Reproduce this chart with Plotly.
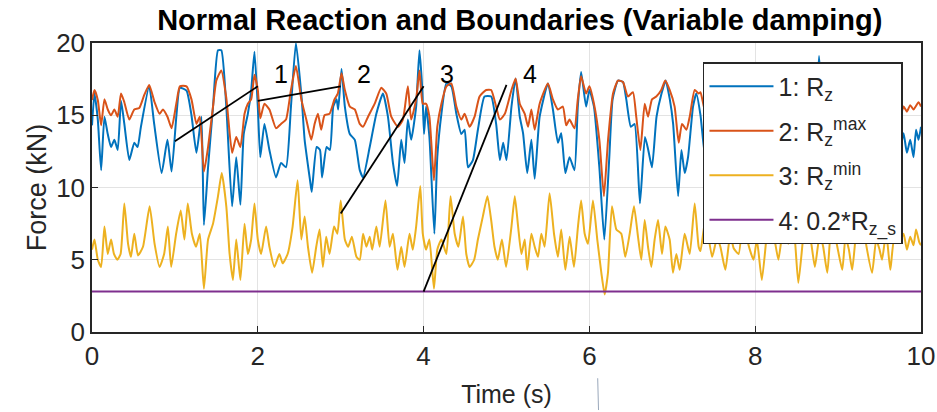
import plotly.graph_objects as go

# ---------------- data ----------------
t_rz = [0.00,0.03,0.07,0.11,0.15,0.19,0.23,0.27,0.31,0.35,0.39,0.45,0.51,0.55,0.59,0.69,0.75,0.84,0.91,0.96,
        1.02,1.06,1.14,1.20,1.26,1.32,1.35,1.40,1.46,1.52,1.56,1.62,1.69,1.74,1.79,1.83,1.88,1.92,1.96,2.00,
        2.03,2.08,2.14,2.22,2.28,2.34,2.40,2.46,2.53,2.565,2.63,2.65,2.71,2.75,2.775,2.83,2.87,2.91,2.95,2.97,
        3.01,3.05,3.11,3.17,3.23,3.27,3.35,3.43,3.51,3.57,3.63,3.68,3.73,3.77,3.81,3.85,3.91,3.95,3.985,4.005,
        4.03,4.07,4.13,4.165,4.215,4.275,4.335,4.395,4.455,4.495,4.535,4.595,4.655,4.735,4.815,4.875,4.92,4.96,5.00,
        5.06,5.11,5.16,5.20,5.25,5.30,5.34,5.40,5.50,5.56,5.62,5.66,5.71,5.76,5.82,5.86,5.90,5.96,6.00,6.055,
        6.12,6.18,6.24,6.28,6.345,6.405,6.445,6.50,6.545,6.61,6.67,6.71,6.755,6.81,6.87,6.92,6.97,7.01,7.07,7.11,
        7.15,7.19,7.25,7.29,7.34,7.40,7.46,7.52,7.60,7.68,7.76,7.84,7.90,7.96,8.04,8.12,8.20,8.28,8.34,8.40,
        8.48,8.56,8.64,8.70,8.77,8.82,8.90,8.96,9.04,9.12,9.20,9.28,9.36,9.44,9.52,9.60,9.68,9.75,9.79,9.83,
        9.87,9.91,9.94,9.97,10.0]
rz = [14.3,16.5,14.7,11.2,14.9,13.7,12.8,13.3,12.6,16.0,14.4,11.9,13.1,12.8,14.2,17.0,14.4,11.0,13.3,11.1,
      15.1,16.9,16.7,15.0,12.4,14.9,7.4,11.4,15.6,19.5,19.5,15.6,8.7,12.1,8.8,13.7,15.1,16.7,19.4,15.6,
      12.1,14.4,12.6,10.7,11.7,11.4,15.6,20.0,16.1,13.3,10.5,9.7,12.8,12.6,10.7,12.8,12.6,15.6,16.1,15.4,
      18.2,15.6,13.7,13.3,11.2,10.7,12.8,15.1,16.5,14.9,11.7,10.1,13.3,11.7,14.7,13.3,15.6,19.5,16.7,13.7,
      15.6,13.5,6.8,12.1,15.1,17.2,17.0,15.1,13.7,14.0,11.4,11.9,14.0,16.3,16.3,14.4,11.9,13.1,11.9,
      15.6,17.55,14.9,13.75,11.0,13.3,10.6,14.9,17.2,15.4,13.1,13.75,11.0,12.1,11.2,15.6,18.0,15.6,16.75,15.6,
      11.4,6.4,12.1,16.1,17.4,17.3,16.1,14.2,14.4,8.9,13.5,12.6,11.4,14.9,16.5,17.4,16.1,14.4,9.4,12.6,
      11.0,12.1,15.6,16.5,15.0,12.0,13.5,11.5,15.5,17.0,15.0,12.0,13.8,11.0,15.8,17.2,14.5,11.8,13.2,10.8,
      15.0,16.8,14.0,12.5,19.1,14.5,11.5,13.4,16.5,17.0,14.2,11.2,13.8,12.0,16.2,16.8,14.0,12.8,13.75,12.4,
      13.3,12.1,14.0,13.3,14.2]

t_rmax = [0.00,0.03,0.07,0.11,0.15,0.19,0.23,0.27,0.31,0.35,0.39,0.45,0.51,0.57,0.63,0.69,0.755,0.815,0.855,0.91,
          0.96,1.02,1.06,1.14,1.20,1.26,1.30,1.35,1.40,1.46,1.50,1.56,1.62,1.69,1.74,1.79,1.84,1.88,1.92,1.96,
          2.00,2.03,2.08,2.14,2.22,2.28,2.34,2.40,2.46,2.525,2.585,2.645,2.685,2.725,2.765,2.805,2.865,2.925,2.965,3.01,
          3.05,3.11,3.17,3.23,3.27,3.33,3.41,3.49,3.55,3.61,3.69,3.75,3.81,3.85,3.91,3.95,3.99,4.03,4.07,4.125,
          4.165,4.215,4.275,4.335,4.395,4.455,4.495,4.555,4.615,4.675,4.755,4.815,4.875,4.92,4.98,5.06,5.11,5.16,5.22,5.26,
          5.30,5.34,5.40,5.50,5.56,5.62,5.68,5.72,5.76,5.82,5.86,5.90,5.96,6.00,6.055,6.12,6.175,6.225,6.285,6.345,
          6.405,6.465,6.525,6.565,6.615,6.667,6.707,6.755,6.807,6.867,6.915,6.968,7.028,7.077,7.117,7.17,7.21,7.27,7.318,
          7.34,7.40,7.46,7.52,7.60,7.68,7.76,7.84,7.90,7.96,8.04,8.12,8.20,8.28,8.34,8.40,8.48,8.56,8.64,8.70,
          8.77,8.82,8.90,8.96,9.04,9.12,9.20,9.28,9.36,9.44,9.52,9.60,9.68,9.75,9.79,9.83,9.87,9.91,9.97,10.0]
rmax = [16.06,16.75,16.06,14.3,16.1,15.4,15.0,15.4,14.9,16.5,15.9,14.7,15.4,15.5,16.4,17.1,15.9,15.1,15.4,14.9,
        14.1,15.9,17.0,17.0,16.1,14.4,14.9,11.1,12.8,15.6,17.4,18.1,16.2,12.4,13.5,12.8,15.1,15.8,16.1,17.8,
        16.75,14.8,15.8,15.4,14.1,14.4,14.7,16.75,18.4,16.1,14.7,13.3,14.4,15.1,14.0,15.0,15.1,16.1,16.5,17.9,
        16.75,15.6,15.4,14.4,14.2,14.9,15.8,16.9,16.5,14.9,14.2,14.7,17.0,14.7,16.1,18.1,15.8,15.8,14.9,10.5,
        14.2,15.8,17.0,17.2,15.6,14.7,15.1,14.2,14.9,16.3,16.75,16.75,15.6,14.7,15.1,16.75,17.55,15.8,15.1,14.2,
        15.4,14.0,15.8,17.2,16.1,15.4,15.6,14.3,14.7,14.1,16.1,17.7,16.5,17.0,15.8,13.3,9.4,13.3,16.5,17.4,
        17.3,16.3,16.6,14.9,12.6,15.8,14.9,16.1,16.3,16.75,17.4,16.75,15.6,13.1,14.4,14.0,14.9,16.75,16.5,
        16.6,15.2,15.6,14.6,16.3,17.2,16.0,14.8,15.4,14.3,16.4,17.4,15.8,14.6,15.2,14.2,16.0,17.0,15.6,15.0,
        18.3,15.8,14.6,15.2,16.8,17.2,15.6,14.4,15.3,14.6,16.5,17.0,15.6,15.0,15.6,15.25,15.7,15.4,15.9,15.6]

t_rmin = [0.00,0.03,0.07,0.11,0.15,0.19,0.23,0.265,0.305,0.345,0.39,0.435,0.47,0.51,0.555,0.615,0.695,0.755,0.815,0.87,
          0.915,0.955,1.015,1.07,1.115,1.155,1.205,1.255,1.30,1.35,1.40,1.46,1.52,1.565,1.62,1.66,1.70,1.74,1.79,1.84,
          1.88,1.92,1.96,2.00,2.04,2.10,2.14,2.20,2.26,2.30,2.36,2.42,2.48,2.525,2.565,2.605,2.655,2.705,2.745,2.785,
          2.825,2.865,2.92,2.96,3.00,3.05,3.09,3.135,3.19,3.23,3.27,3.31,3.35,3.38,3.43,3.47,3.54,3.59,3.63,3.685,
          3.73,3.77,3.83,3.87,3.91,3.96,3.99,4.03,4.07,4.125,4.165,4.215,4.275,4.325,4.375,4.42,4.475,4.515,4.555,4.61,
          4.655,4.715,4.77,4.815,4.855,4.895,4.945,4.995,5.06,5.10,5.14,5.18,5.22,5.25,5.30,5.34,5.38,5.42,5.46,5.52,
          5.573,5.62,5.66,5.71,5.762,5.814,5.862,5.90,5.943,5.983,6.043,6.095,6.144,6.184,6.224,6.272,6.325,6.385,6.433,6.486,
          6.538,6.586,6.626,6.667,6.707,6.747,6.787,6.828,6.876,6.916,6.968,7.008,7.049,7.089,7.149,7.21,7.27,7.318,
          7.34,7.40,7.48,7.54,7.58,7.64,7.70,7.74,7.80,7.86,7.92,7.98,8.02,8.08,8.14,8.18,8.24,8.28,8.34,8.40,
          8.46,8.52,8.58,8.62,8.68,8.72,8.78,8.82,8.87,8.92,8.98,9.05,9.09,9.13,9.17,9.22,9.28,9.34,9.41,9.46,
          9.50,9.53,9.58,9.63,9.68,9.75,9.79,9.83,9.87,9.91,9.94,9.98,10.0]
rmin = [5.7,6.4,5.0,4.5,7.3,5.4,6.4,5.4,5.0,5.4,8.9,6.1,5.2,6.8,5.3,5.9,8.7,6.1,4.5,5.4,
        7.3,4.5,6.8,8.4,6.4,8.9,6.8,5.9,6.8,3.0,6.4,7.5,9.4,11.0,8.7,5.4,3.6,6.4,3.6,7.5,
        5.4,6.4,8.9,6.4,5.4,7.3,5.9,4.5,5.4,4.75,5.4,7.3,10.5,6.4,8.0,5.9,4.1,5.9,7.1,4.5,
        6.6,5.4,7.3,6.8,9.1,6.4,5.9,6.6,5.2,5.0,6.8,5.9,6.6,5.7,7.3,5.9,9.1,5.9,6.8,4.3,
        5.9,4.5,6.8,5.7,7.3,10.1,6.8,5.7,6.4,3.0,5.7,6.4,5.4,9.4,6.8,5.9,8.0,5.4,4.5,5.0,
        6.4,8.0,9.4,7.75,5.9,5.0,6.4,4.5,7.3,9.4,7.3,5.4,6.4,4.3,6.8,5.9,5.2,6.8,5.9,9.6,
        6.8,5.2,7.1,4.3,6.6,4.5,7.3,9.1,6.8,6.1,9.1,6.4,4.1,2.6,4.1,8.7,7.1,6.8,5.2,6.8,
        8.7,6.6,5.0,7.75,5.9,4.5,6.4,7.75,5.4,7.3,6.4,4.1,5.4,4.3,6.8,5.4,8.9,5.9,
        5.6,7.8,5.2,6.5,5.9,4.3,6.8,5.8,5.4,8.2,6.0,5.0,6.4,3.6,6.8,8.6,6.2,5.0,7.2,6.1,
        7.5,3.4,6.6,8.0,6.0,4.5,6.8,5.9,4.1,7.4,6.2,4.3,6.6,5.7,4.3,7.0,8.4,6.0,4.1,6.4,
        5.7,5.0,6.9,4.3,6.5,6.4,6.8,5.7,6.6,6.0,7.1,6.2,6.0]

t_span = [0, 10]
rzs_02 = [2.8, 2.8]

names = ["1: R<sub>z</sub>", "2: R<sub>z</sub><sup>max</sup>",
         "3: R<sub>z</sub><sup>min</sup>", "4: 0.2*R<sub>z_s</sub>"]
colors = ["#0072BD", "#D95319", "#EDB120", "#7E2F8E"]

# annotation pointer lines: (x0, y0) -> (x1, y1), and label positions
ptr_x0 = [1, 2, 3, 4]
ptr_y0 = [13.2, 16.0, 8.2, 2.8]
ptr_x1 = [2, 3, 4, 5]
ptr_y1 = [17.0, 17.0, 17.0, 17.1]
lbl_text = ["1", "2", "3", "4"]
lbl_x = [2.28, 3.28, 4.28, 5.28]
lbl_y = [17.85, 17.85, 17.85, 17.85]

x_ticks = [0, 2, 4, 6, 8, 10]
y_ticks = [0, 5, 10, 15, 20]

FONT = "Liberation Sans, Arial, sans-serif"
INK = "#262626"

fig = go.Figure()
series = [(t_rz, rz), (t_rmax, rmax), (t_rmin, rmin), (t_span, rzs_02)]
for i, ((tx, ty), nm, c) in enumerate(zip(series, names, colors)):
    fig.add_trace(go.Scatter(x=tx, y=ty, mode="lines", name=nm, legendgroup=f"g{i}",
                             line=dict(color=c, width=2, shape="spline", smoothing=0.5)))

for x0, y0, x1, y1 in zip(ptr_x0, ptr_y0, ptr_x1, ptr_y1):
    fig.add_shape(type="line", xref="x", yref="y", x0=x0, y0=y0, x1=x1, y1=y1,
                  line=dict(color="black", width=1.8))
for tx, lx, ly in zip(lbl_text, lbl_x, lbl_y):
    fig.add_annotation(x=lx, y=ly, xref="x", yref="y", text=tx, showarrow=False,
                       font=dict(family=FONT, size=25, color="black"))

# small stray cursor mark seen below the axis in the original
fig.add_shape(type="line", xref="paper", yref="paper", x0=0.610, x1=0.611,
              y0=-0.16, y1=-0.27, line=dict(color="#9aa8bb", width=1))

fig.update_layout(
    width=937, height=412,
    margin=dict(l=92, r=16, t=43, b=80),
    paper_bgcolor="white", plot_bgcolor="white",
    font=dict(family=FONT, color=INK, size=25),
    title=dict(text="<b>Normal Reaction and Boundaries (Variable damping)</b>",
               x=0.516, xref="paper", xanchor="center",
               y=1 - 20 / 412, yref="container", yanchor="middle",
               font=dict(family=FONT, size=29, color="black")),
    showlegend=True,
    legend=dict(x=0.737, y=0.934, xanchor="left", yanchor="top",
                bgcolor="white", bordercolor=INK, borderwidth=1.5,
                font=dict(family=FONT, size=25, color=INK),
                itemwidth=64, tracegroupgap=9),
)
fig.update_xaxes(range=[0, 10], tickvals=x_ticks, showgrid=True, gridcolor="#e3e3e3",
                 zeroline=False, showline=True, linecolor=INK, linewidth=1.5, mirror=True,
                 ticks="inside", ticklen=6, tickcolor=INK, automargin=False,
                 tickfont=dict(size=26, color=INK),
                 title=dict(text="Time (s)", font=dict(size=25, color=INK), standoff=16))
fig.update_yaxes(range=[0, 20], tickvals=y_ticks, showgrid=True, gridcolor="#e3e3e3",
                 zeroline=False, showline=True, linecolor=INK, linewidth=1.5, mirror=True,
                 ticks="inside", ticklen=6, tickcolor=INK, automargin=False,
                 tickfont=dict(size=26, color=INK),
                 title=dict(text="Force (kN)", font=dict(size=27, color=INK), standoff=2))

fig.write_html("out.html")
